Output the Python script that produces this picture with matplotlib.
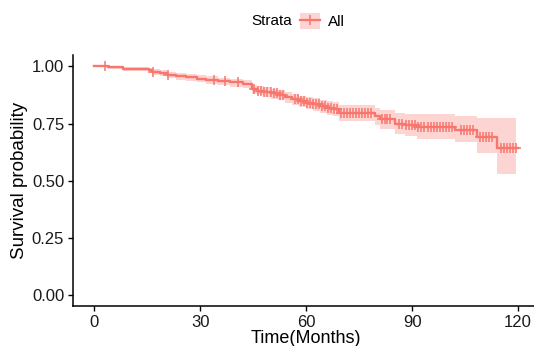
import matplotlib
matplotlib.use("Agg")
import matplotlib.pyplot as plt
import numpy as np
from matplotlib.lines import Line2D
from matplotlib.patches import Patch
from matplotlib.legend_handler import HandlerTuple

plt.rcParams["font.family"] = ["Liberation Sans", "DejaVu Sans"]

KM_RED = "#F8766D"

# Kaplan-Meier steps (months, survival, 95% CI)
event_time = [0, 4, 8, 15.5, 16.3, 18.5, 20.5, 23, 26, 29, 31.5, 35, 38.5, 42,
              44.6, 46, 48, 50, 52, 54, 56, 58, 60, 62, 64, 66, 67.5, 69.2,
              79.5, 81, 85.2, 88, 91.3, 102.2, 108.3, 114]
surv = [1.000, 0.996, 0.990, 0.984, 0.977, 0.971, 0.964, 0.958, 0.953, 0.947,
        0.941, 0.936, 0.930, 0.924, 0.900, 0.894, 0.888, 0.882, 0.876, 0.866,
        0.856, 0.848, 0.840, 0.834, 0.827, 0.820, 0.814, 0.798, 0.781, 0.769,
        0.749, 0.744, 0.733, 0.720, 0.693, 0.643]
upper = [1.000, 1.000, 0.998, 0.994, 0.988, 0.983, 0.977, 0.972, 0.967, 0.962,
         0.956, 0.951, 0.946, 0.940, 0.918, 0.913, 0.908, 0.903, 0.897, 0.888,
         0.879, 0.872, 0.866, 0.861, 0.855, 0.849, 0.844, 0.831, 0.820, 0.810,
         0.797, 0.793, 0.790, 0.783, 0.776, 0.776]
lower = [1.000, 0.988, 0.980, 0.972, 0.964, 0.957, 0.949, 0.942, 0.937, 0.930,
         0.924, 0.918, 0.912, 0.905, 0.880, 0.873, 0.866, 0.859, 0.852, 0.841,
         0.830, 0.821, 0.812, 0.804, 0.796, 0.788, 0.781, 0.763, 0.742, 0.727,
         0.703, 0.696, 0.684, 0.668, 0.622, 0.527]
last_followup = 120
band_end = 119.4

censor_time = [2.9, 16.7, 20.8, 34, 37.1, 40.8,
               45.1, 46.3, 47.2, 48.1, 49, 49.9, 50.8, 51.7, 52.6, 53.4,
               56.9, 57.8, 58.6, 59.4, 60.3, 61.1, 62, 62.8, 63.7, 64.5, 65.4, 66.2, 67.1,
               67.9, 68.7, 69.8, 70.6, 71.5, 72.3, 73.2, 74, 74.9, 75.7, 76.6, 77.4, 78.3,
               81.4, 82.2, 83, 83.8,
               86.3, 87.2, 88.3, 89.1, 89.9, 90.7, 91.6, 92.4, 93.2,
               94.5, 95.3, 96.2, 97, 97.9, 98.7, 99.6, 100.4, 101.3,
               103.8, 104.6, 105.5, 106.3, 107.2,
               109.3, 110.1, 111, 111.8, 112.7,
               115.2, 116, 116.9, 117.7, 118.6, 119.4]

x_ticks = [0, 30, 60, 90, 120]
y_ticks = [0.00, 0.25, 0.50, 0.75, 1.00]


def main():
    t = np.array(event_time, dtype=float)
    s = np.array(surv)

    fig = plt.figure(figsize=(5.34, 3.46), dpi=100)
    ax = fig.add_axes([0.137, 0.115, 0.873, 0.726])

    tb = np.append(t, band_end)
    ax.fill_between(tb, np.append(lower, lower[-1]), np.append(upper, upper[-1]),
                    step="post", color=KM_RED, alpha=0.3, linewidth=0)

    ax.step(np.append(t, last_followup), np.append(s, s[-1]), where="post",
            color=KM_RED, linewidth=1.7)

    ct = np.array(censor_time)
    cs = s[np.searchsorted(t, ct, side="right") - 1]
    ax.plot(ct, cs, linestyle="none", marker="+", markersize=7,
            markeredgewidth=1.1, color=KM_RED)

    ax.set_xlim(-6, 126)
    ax.set_ylim(-0.05, 1.05)
    ax.set_xticks(x_ticks)
    ax.set_xticklabels([str(v) for v in x_ticks])
    ax.set_yticks(y_ticks)
    ax.set_yticklabels([f"{v:.2f}" for v in y_ticks])
    ax.tick_params(labelsize=12, length=3.5, width=1.0, color="black",
                   labelcolor="#1a1a1a", pad=3)
    for side in ("top", "right"):
        ax.spines[side].set_visible(False)
    for side in ("left", "bottom"):
        ax.spines[side].set_linewidth(1.1)
        ax.spines[side].set_color("black")

    ax.set_xlabel("Time(Months)", fontsize=13, labelpad=0)
    ax.set_ylabel("Survival probability", fontsize=13.5, labelpad=3)

    fig.text(0.547, 0.939, "Strata", ha="right", va="center", fontsize=11)
    key = (Patch(facecolor=KM_RED, alpha=0.3, linewidth=0),
           Line2D([], [], color=KM_RED, linewidth=1.6, marker="+",
                  markersize=7, markeredgewidth=1.1))
    fig.legend(handles=[key], labels=["All"], loc="center left",
               bbox_to_anchor=(0.561, 0.939), frameon=False, fontsize=11,
               borderpad=0, borderaxespad=0, handlelength=1.35,
               handleheight=1.3, handletextpad=0.5,
               handler_map={tuple: HandlerTuple(ndivide=1, pad=0)})

    fig.savefig("out.png", dpi=100)
    plt.close(fig)


if __name__ == "__main__":
    main()
